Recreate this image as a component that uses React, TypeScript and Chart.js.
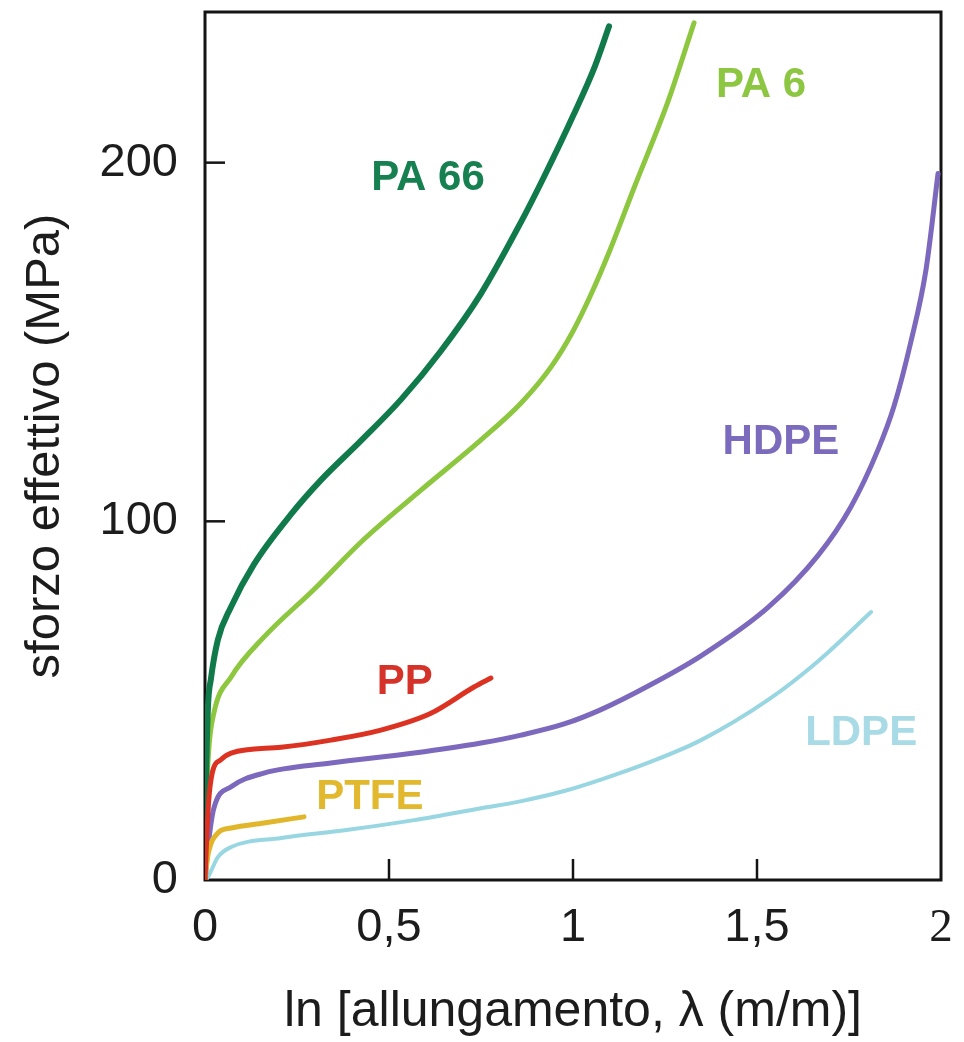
import React, { useEffect, useRef } from "react";
import { Chart, registerables } from "chart.js";

Chart.register(...registerables);

// ---- data (x = ln λ, y = effective stress in MPa) ----
const PP_X = [0, 0.004, 0.01, 0.02, 0.043, 0.071, 0.207, 0.342, 0.478, 0.614, 0.731, 0.777];
const PP_Y = [0, 10, 22, 30, 33.5, 35.4, 37, 39, 41.8, 46.5, 53.8, 56.3];

const PTFE_X = [0, 0.004, 0.01, 0.035, 0.071, 0.16, 0.269];
const PTFE_Y = [0, 4, 8, 13.1, 14.5, 15.9, 17.6];

const PA66_X = [0, 0.003, 0.008, 0.016, 0.035, 0.07, 0.133, 0.234, 0.315, 0.424, 0.533, 0.641, 0.75, 0.859, 0.921, 1.0, 1.06, 1.098];
const PA66_Y = [0, 28, 48, 56, 67, 76, 88, 102, 111.5, 122.5, 134, 147.5, 163.5, 183.5, 196, 213, 227, 238];

const PA6_X = [0, 0.004, 0.01, 0.024, 0.071, 0.16, 0.296, 0.432, 0.587, 0.75, 0.859, 0.94, 1.0, 1.05, 1.1, 1.166, 1.258, 1.329];
const PA6_Y = [0, 22, 36, 46.5, 56.6, 67.7, 81, 95, 108.7, 122.7, 133, 143, 153, 163.5, 175.5, 193, 217, 239];

const HDPE_X = [0, 0.008, 0.024, 0.071, 0.16, 0.342, 0.568, 0.75, 0.859, 0.976, 1.076, 1.212, 1.348, 1.53, 1.666, 1.755, 1.829, 1.872, 1.918, 1.959, 1.992];
const HDPE_Y = [0, 9, 20, 26, 29.8, 32.6, 35.4, 38.2, 40.4, 43.5, 47.5, 54.5, 62.5, 76, 90.5, 104, 120, 132, 150, 170, 197];

const LDPE_X = [0, 0.008, 0.035, 0.071, 0.207, 0.389, 0.568, 0.75, 0.86, 0.976, 1.076, 1.212, 1.348, 1.53, 1.666, 1.81];
const LDPE_Y = [0, 0.8, 6.4, 9.2, 11.7, 14, 16.7, 20, 22, 24.8, 28, 33, 39, 50.2, 61, 74.7];

const SERIES_NAMES = ["PP", "PTFE", "PA 66", "PA 6", "HDPE", "LDPE"];

const X_TICK_VALUES = [0, 0.5, 1, 1.5, 2];
const X_TICK_LABELS = ["0", "0,5", "1", "1,5", "2"];
const Y_TICK_VALUES = [0, 100, 200];

const X_TITLE = "ln [allungamento, λ (m/m)]";
const Y_TITLE = "sforzo effettivo (MPa)";

// label anchor positions (data units) for the curve names
const LABEL_X = [0.543, 0.448, 0.606, 1.511, 1.565, 1.783];
const LABEL_Y = [55.2, 23.1, 195.7, 221.4, 122.1, 41];

const COLORS = ["#dc3222", "#e2b62a", "#107a4b", "#8dc63f", "#7c68bd", "#98d6e2"];
const LABEL_COLORS = ["#d5322a", "#e2b92e", "#178050", "#8dc641", "#7c6bbd", "#a8dbe6"];
const WIDTHS = [5, 5, 6, 5, 5, 4];

const SANS = "'Liberation Sans', Arial, Helvetica, sans-serif";
const SERIF = "'Liberation Serif', 'Times New Roman', serif";

const toPoints = (xs: number[], ys: number[]) => xs.map((x, i) => ({ x, y: ys[i] }));

const framePlugin = {
  id: "frameAndLabels",
  beforeDatasetsDraw(chart: any) {
    const { ctx, chartArea, scales } = chart;
    const { left, right, top, bottom } = chartArea;
    ctx.save();
    ctx.strokeStyle = "#141414";
    ctx.lineWidth = 3;
    ctx.strokeRect(left, top, right - left, bottom - top);
    ctx.lineWidth = 2.5;
    X_TICK_VALUES.slice(1, -1).forEach((v) => {
      const px = scales.x.getPixelForValue(v);
      ctx.beginPath();
      ctx.moveTo(px, bottom);
      ctx.lineTo(px, bottom - 21);
      ctx.stroke();
    });
    Y_TICK_VALUES.slice(1).forEach((v) => {
      const py = scales.y.getPixelForValue(v);
      ctx.beginPath();
      ctx.moveTo(left, py);
      ctx.lineTo(left + 20, py);
      ctx.stroke();
    });
    ctx.restore();
  },
  afterDatasetsDraw(chart: any) {
    const { ctx, scales } = chart;
    ctx.save();
    ctx.font = `bold 42px ${SANS}`;
    ctx.textAlign = "center";
    ctx.textBaseline = "middle";
    SERIES_NAMES.forEach((name, i) => {
      ctx.fillStyle = LABEL_COLORS[i];
      ctx.fillText(name, scales.x.getPixelForValue(LABEL_X[i]), scales.y.getPixelForValue(LABEL_Y[i]));
    });
    ctx.restore();
  },
};

export default function App() {
  const canvasRef = useRef<HTMLCanvasElement | null>(null);

  useEffect(() => {
    const canvas = canvasRef.current;
    if (!canvas) return;
    const seriesData = [
      toPoints(PP_X, PP_Y),
      toPoints(PTFE_X, PTFE_Y),
      toPoints(PA66_X, PA66_Y),
      toPoints(PA6_X, PA6_Y),
      toPoints(HDPE_X, HDPE_Y),
      toPoints(LDPE_X, LDPE_Y),
    ];
    const chart = new Chart(canvas, {
      type: "line",
      data: {
        datasets: SERIES_NAMES.map((name, i) => ({
          label: name,
          data: seriesData[i],
          borderColor: COLORS[i],
          backgroundColor: COLORS[i],
          borderWidth: WIDTHS[i],
          pointRadius: 0,
          pointHoverRadius: 0,
          fill: false,
          cubicInterpolationMode: "monotone",
          borderCapStyle: "round",
          borderJoinStyle: "round",
        })),
      },
      options: {
        responsive: false,
        animation: false,
        devicePixelRatio: 1,
        layout: { padding: { top: 12, right: 23, left: 0, bottom: 0 } },
        plugins: {
          legend: { display: false },
          tooltip: { enabled: false },
        },
        scales: {
          x: {
            type: "linear",
            min: 0,
            max: 2,
            grid: { display: false, drawTicks: false },
            border: { display: false },
            afterBuildTicks: (scale: any) => {
              scale.ticks = X_TICK_VALUES.map((v) => ({ value: v }));
            },
            afterFit: (scale: any) => {
              scale.height = 162;
              scale.paddingLeft = 0;
              scale.paddingRight = 0;
            },
            ticks: {
              autoSkip: false,
              maxRotation: 0,
              minRotation: 0,
              padding: 20,
              color: "#1c1c1c",
              font: (c: any) => ({
                family: c.tick && c.tick.value === 2 ? SERIF : SANS,
                size: 47,
              }),
              callback: (v: any) => {
                const idx = X_TICK_VALUES.indexOf(Number(v));
                return idx >= 0 ? X_TICK_LABELS[idx] : "";
              },
            },
            title: {
              display: true,
              text: X_TITLE,
              color: "#1c1c1c",
              font: { family: SANS, size: 50 },
              padding: { top: 0, bottom: 0 },
            },
          },
          y: {
            type: "linear",
            min: 0,
            max: 242,
            grid: { display: false, drawTicks: false },
            border: { display: false },
            afterBuildTicks: (scale: any) => {
              scale.ticks = Y_TICK_VALUES.map((v) => ({ value: v }));
            },
            afterFit: (scale: any) => {
              scale.width = 205;
              scale.paddingTop = 0;
              scale.paddingBottom = 0;
            },
            ticks: {
              padding: 27,
              color: "#1c1c1c",
              font: { family: SANS, size: 47 },
            },
            title: {
              display: true,
              text: Y_TITLE,
              color: "#1c1c1c",
              font: { family: SANS, size: 49 },
              padding: { top: 16, bottom: 0 },
            },
          },
        },
      },
      plugins: [framePlugin],
    } as any);
    return () => chart.destroy();
  }, []);

  return (
    <div style={{ position: "absolute", left: 0, top: 0, width: 964, height: 1042, background: "#fff" }}>
      <canvas ref={canvasRef} width={964} height={1042} style={{ display: "block" }} />
    </div>
  );
}
